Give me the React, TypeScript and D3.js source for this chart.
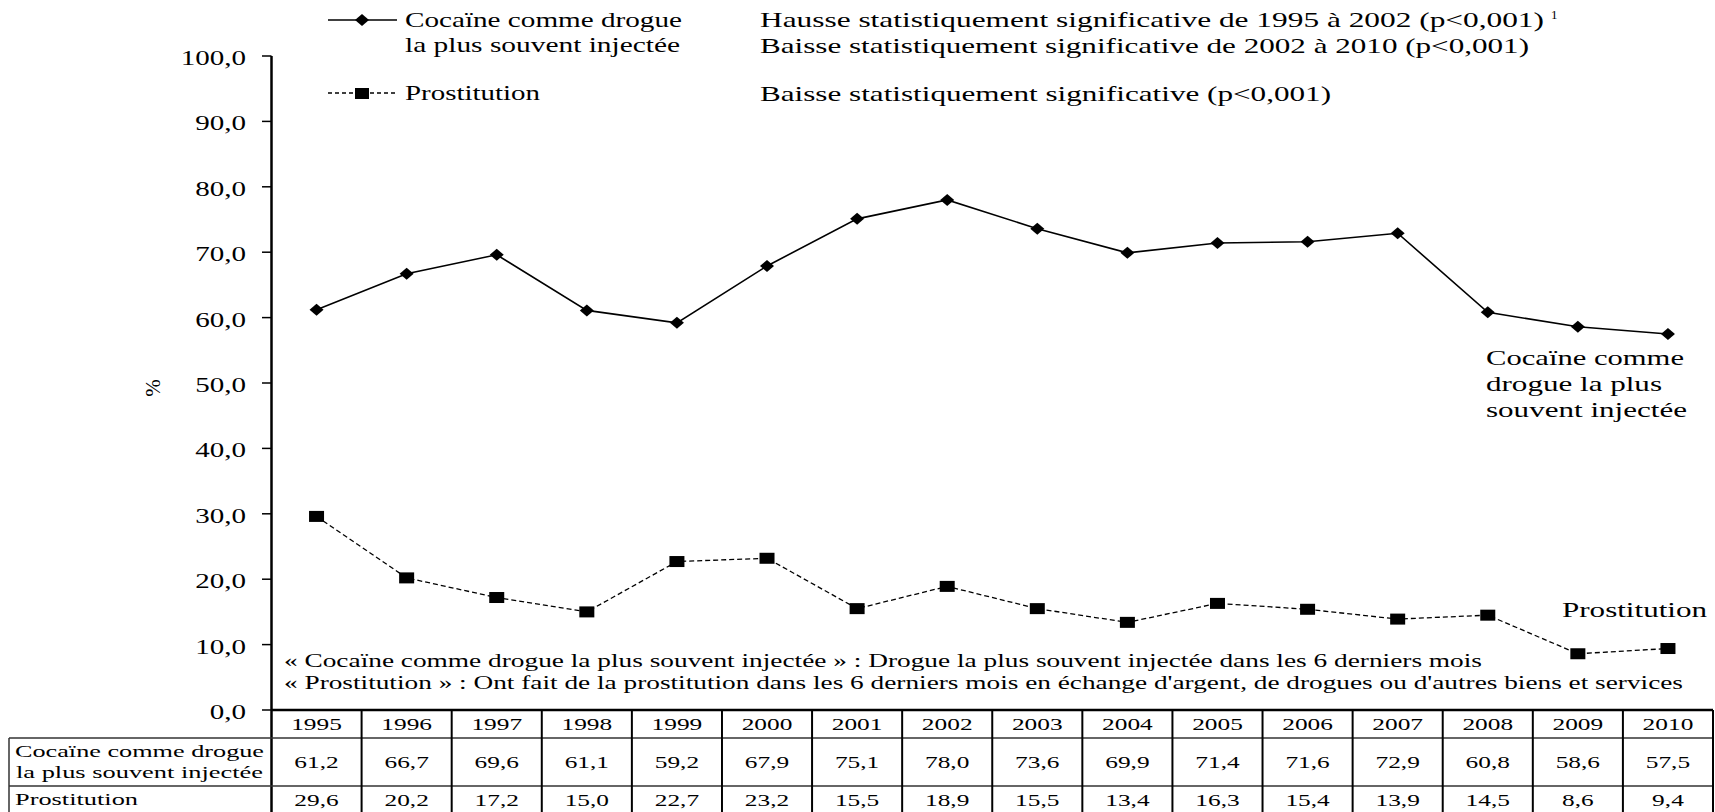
import React from "react";
import * as d3 from "d3";

const years = ["1995", "1996", "1997", "1998", "1999", "2000", "2001", "2002", "2003", "2004", "2005", "2006", "2007", "2008", "2009", "2010"];
const cocaine = [61.2, 66.7, 69.6, 61.1, 59.2, 67.9, 75.1, 78.0, 73.6, 69.9, 71.4, 71.6, 72.9, 60.8, 58.6, 57.5];
const prostitution = [29.6, 20.2, 17.2, 15.0, 22.7, 23.2, 15.5, 18.9, 15.5, 13.4, 16.3, 15.4, 13.9, 14.5, 8.6, 9.4];
const yTicks = [0, 10, 20, 30, 40, 50, 60, 70, 80, 90, 100];
const cocaineLegend = ["Cocaïne comme drogue", "la plus souvent injectée"];
const cocaineEndLabel = ["Cocaïne comme", "drogue la plus", "souvent injectée"];
const prostitutionName = "Prostitution";
const trendNotes = [
  "Hausse statistiquement significative de 1995 à 2002 (p<0,001)",
  "Baisse statistiquement significative de 2002 à 2010 (p<0,001)",
  "Baisse statistiquement significative (p<0,001)",
];
const definitions = [
  "« Cocaïne comme drogue la plus souvent injectée » : Drogue la plus souvent injectée dans les 6 derniers mois",
  "« Prostitution » : Ont fait de la prostitution dans les 6 derniers mois en échange d'argent, de drogues ou d'autres biens et services",
];

const FONT = "'Liberation Serif', 'Times New Roman', Times, serif";

type TProps = {
  x: number;
  y: number;
  size: number;
  sx?: number;
  anchor?: "start" | "middle" | "end";
  len?: number;
  children: React.ReactNode;
};

function T({ x, y, size, sx = 1, anchor = "start", len, children }: TProps) {
  return (
    <text
      transform={`translate(${x},${y}) scale(${sx},1)`}
      fontSize={size}
      fontFamily={FONT}
      textAnchor={anchor}
      fill="#000"
      textLength={len}
      lengthAdjust={len ? "spacingAndGlyphs" : undefined}
    >
      {children}
    </text>
  );
}

export default function App() {
  const left = 271.5;
  const right = 1713;
  const x = d3.scaleBand<string>().domain(years).range([left, right]).padding(0);
  const y = d3.scaleLinear().domain([0, 100]).range([710, 56]);
  const cx = (i: number) => (x(years[i]) as number) + x.bandwidth() / 2;
  const fmt = (v: number) => v.toFixed(1).replace(".", ",");
  const line = d3
    .line<number>()
    .x((_, i) => cx(i))
    .y((d) => y(d));

  const tableTop = y(0);
  const headerBottom = 738;
  const row2Bottom = 786;
  const tableBottom = 834;
  const diamond = (px: number, py: number, hw: number, hh: number) =>
    `M${px},${py - hh}L${px + hw},${py}L${px},${py + hh}L${px - hw},${py}Z`;

  return (
    <svg
      width={1715}
      height={812}
      style={{ position: "absolute", left: 0, top: 0, background: "#fff" }}
    >
      <rect x={0} y={0} width={1715} height={812} fill="#fff" />

      {/* Legend */}
      <line x1={328} x2={397} y1={20} y2={20} stroke="#000" strokeWidth={1.5} />
      <path d={diamond(362, 20, 7, 6)} fill="#000" />
      <T x={405} y={27} size={21} len={277}>{cocaineLegend[0]}</T>
      <T x={405} y={52} size={21} len={275}>{cocaineLegend[1]}</T>
      <line x1={328} x2={397} y1={93} y2={93} stroke="#000" strokeWidth={1.3} strokeDasharray="4,3" />
      <rect x={355} y={88} width={14} height={11} fill="#000" />
      <T x={405} y={100} size={21} len={135}>{prostitutionName}</T>

      {/* Trend notes */}
      <T x={760} y={27} size={21} len={784}>{trendNotes[0]}</T>
      <T x={1551} y={19} size={13}>1</T>
      <T x={760} y={53} size={21} len={769}>{trendNotes[1]}</T>
      <T x={760} y={101} size={21} len={571}>{trendNotes[2]}</T>

      {/* Y axis */}
      <line x1={left} x2={left} y1={y(100)} y2={812} stroke="#000" strokeWidth={2.5} />
      {yTicks.map((t) => (
        <g key={t}>
          <line x1={262} x2={left} y1={y(t)} y2={y(t)} stroke="#000" strokeWidth={1.5} />
          <T x={246} y={y(t) + 9} size={22} sx={1.32} anchor="end">{fmt(t)}</T>
        </g>
      ))}
      <text
        transform="translate(160,388) rotate(-90)"
        fontSize={21}
        fontFamily={FONT}
        textAnchor="middle"
      >
        %
      </text>

      {/* Lines */}
      <path d={line(cocaine) || ""} fill="none" stroke="#000" strokeWidth={1.6} />
      <path d={line(prostitution) || ""} fill="none" stroke="#000" strokeWidth={1.3} strokeDasharray="5,3" />
      {cocaine.map((v, i) => (
        <path key={"c" + i} d={diamond(cx(i), y(v), 7, 6)} fill="#000" />
      ))}
      {prostitution.map((v, i) => (
        <rect key={"p" + i} x={cx(i) - 7.5} y={y(v) - 5.5} width={15} height={11} fill="#000" />
      ))}

      {/* End labels */}
      <T x={1486} y={365} size={22} len={198}>{cocaineEndLabel[0]}</T>
      <T x={1486} y={391} size={22} len={176}>{cocaineEndLabel[1]}</T>
      <T x={1486} y={417} size={22} len={201}>{cocaineEndLabel[2]}</T>
      <T x={1562} y={617} size={22} len={145}>{prostitutionName}</T>

      {/* Definitions */}
      <T x={284} y={667} size={18.5} len={1198}>{definitions[0]}</T>
      <T x={284} y={689} size={18.5} len={1399}>{definitions[1]}</T>

      {/* Table */}
      <line x1={9} x2={right} y1={headerBottom} y2={headerBottom} stroke="#333" strokeWidth={1.5} />
      <line x1={9} x2={right} y1={row2Bottom} y2={row2Bottom} stroke="#333" strokeWidth={1.5} />
      <line x1={9} x2={9} y1={headerBottom} y2={tableBottom} stroke="#333" strokeWidth={1.5} />
      {years.map((yr) => (
        <line
          key={"v" + yr}
          x1={(x(yr) as number) + x.bandwidth()}
          x2={(x(yr) as number) + x.bandwidth()}
          y1={tableTop}
          y2={tableBottom}
          stroke="#000"
          strokeWidth={2}
        />
      ))}
      <line x1={left} x2={right} y1={tableTop} y2={tableTop} stroke="#000" strokeWidth={2.5} />
      {years.map((yr, i) => (
        <g key={"t" + yr}>
          <T x={cx(i)} y={730} size={17.5} sx={1.45} anchor="middle">{yr}</T>
          <T x={cx(i)} y={768} size={17.5} sx={1.45} anchor="middle">{fmt(cocaine[i])}</T>
          <T x={cx(i)} y={806} size={17.5} sx={1.45} anchor="middle">{fmt(prostitution[i])}</T>
        </g>
      ))}
      <T x={15} y={757} size={17.5} len={249}>{cocaineLegend[0]}</T>
      <T x={16} y={778} size={17.5} len={247}>{cocaineLegend[1]}</T>
      <T x={15} y={805} size={17.5} len={123}>{prostitutionName}</T>
    </svg>
  );
}
